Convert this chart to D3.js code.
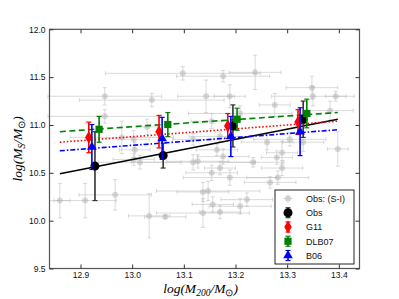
<!DOCTYPE html>
<html>
<head>
<meta charset="utf-8">
<script src="https://cdn.jsdelivr.net/npm/d3@7"></script>
<style>
  body { margin: 0; background: #fff; }
  svg { display: block; }
</style>
</head>
<body>
<div id="chart"></div>
<script>
// Stellar mass vs halo mass, observed sample + model predictions

// gray sample: Obs (S-I)
const sampleX = [13.098, 13.238, 12.947, 13.038, 13.176, 13.143, 13.189, 13.348, 13.350, 13.394,
  13.276, 13.383, 12.947, 13.209, 12.980, 13.029, 13.003, 13.118, 13.154, 13.170,
  13.261, 13.305, 13.331, 13.398, 13.234, 13.290, 13.290, 13.280, 13.267, 13.282,
  13.189, 13.154, 13.137, 13.147, 13.156, 13.222, 13.209, 13.170, 13.137, 13.164,
  13.176, 13.127, 13.118, 13.170, 12.860, 12.909, 12.967, 13.033, 13.064, 13.003,
  13.015, 13.005];
const sampleY = [11.54, 11.55, 11.30, 11.26, 11.51, 11.30, 11.30, 11.39, 11.30, 11.30,
  11.21, 11.15, 11.09, 11.12, 10.87, 10.98, 10.85, 10.85, 11.04, 10.88,
  10.82, 10.85, 10.82, 10.75, 10.61, 10.71, 10.55, 10.66, 10.40, 10.45,
  10.45, 10.50, 10.30, 10.31, 10.17, 10.22, 10.15, 10.09, 10.08, 10.74,
  10.67, 10.62, 10.61, 10.55, 10.21, 10.21, 10.27, 10.05, 10.04, 10.64,
  10.61, 10.74];
const sampleXerr = [0.15, 0.05, 0.11, 0.14, 0.09, 0.055, 0.03, 0.05, 0.08, 0.02,
  0.03, 0.045, 0.11, 0.10, 0.10, 0.02, 0.03, 0.04, 0.04, 0.06,
  0.05, 0.07, 0.04, 0.02, 0.06, 0.03, 0.04, 0.03, 0.05, 0.06,
  0.09, 0.05, 0.05, 0.10, 0.04, 0.05, 0.06, 0.04, 0.09, 0.04,
  0.05, 0.06, 0.12, 0.03, 0.02, 0.06, 0.07, 0.04, 0.04, 0.04,
  0.08, 0.03];
const sampleYerr = [0.07, 0.18, 0.09, 0.07, 0.06, 0.17, 0.12, 0.12, 0.10, 0.05,
  0.12, 0.10, 0.07, 0.08, 0.17, 0.08, 0.09, 0.06, 0.08, 0.05,
  0.08, 0.07, 0.10, 0.18, 0.05, 0.12, 0.08, 0.07, 0.06, 0.07,
  0.08, 0.08, 0.10, 0.10, 0.08, 0.07, 0.08, 0.07, 0.15, 0.06,
  0.08, 0.07, 0.08, 0.07, 0.18, 0.18, 0.16, 0.23, 0.02, 0.06,
  0.07, 0.08];

// binned points
const obsX = [12.928, 13.060, 13.195, 13.331];
const obsY = [10.57, 10.68, 10.99, 11.06];
const obsErr = [0.36, 0.13, 0.22, 0.19];

const g11X = [12.916, 13.052, 13.185, 13.321];
const g11Y = [10.87, 10.93, 10.99, 11.03];
const g11Err = [0.16, 0.17, 0.13, 0.13];

const dlbX = [12.936, 13.069, 13.203, 13.338];
const dlbY = [10.955, 11.005, 11.06, 11.12];
const dlbErr = [0.135, 0.125, 0.115, 0.15];

const b06X = [12.922, 13.058, 13.191, 13.325];
const b06Y = [10.77, 10.86, 10.88, 10.93];
const b06Err = [0.235, 0.22, 0.21, 0.25];

// fitted lines (value at both ends of fitRange)
const fitRange = [12.86, 13.398];
const obsFit = [10.49, 11.06];
const g11Fit = [10.82, 11.04];
const dlbFit = [10.93, 11.13];
const b06Fit = [10.73, 10.95];

const xTicks = [12.9, 13.0, 13.1, 13.2, 13.3, 13.4];
const yTicks = [9.5, 10.0, 10.5, 11.0, 11.5, 12.0];
const legendNames = ["Obs: (S-I)", "Obs", "G11", "DLB07", "B06"];

const width = 399, height = 299;
const pLeft = 49.5, pRight = 359.5, pTop = 29.3, pBottom = 268.5;

const svg = d3.select("#chart").append("svg")
    .attr("width", width)
    .attr("height", height);

const x = d3.scaleLinear().domain([12.84, 13.44]).range([pLeft, pRight]);
const y = d3.scaleLinear().domain([9.5, 12.0]).range([pBottom, pTop]);

// gray sample with x and y error bars
const sample = sampleX.map((v, i) => ({x: v, y: sampleY[i], xe: sampleXerr[i], ye: sampleYerr[i]}));
const gs = svg.append("g");
const barCol = "#b8b8b8";
sample.forEach(d => {
    const cx = x(d.x), cy = y(d.y);
    gs.append("line").attr("x1", x(d.x - d.xe)).attr("x2", x(d.x + d.xe))
        .attr("y1", cy).attr("y2", cy);
    gs.append("line").attr("x1", cx).attr("x2", cx)
        .attr("y1", y(d.y - d.ye)).attr("y2", y(d.y + d.ye));
    [d.x - d.xe, d.x + d.xe].forEach(v => {
        gs.append("line").attr("x1", x(v)).attr("x2", x(v)).attr("y1", cy - 2).attr("y2", cy + 2);
    });
    [d.y - d.ye, d.y + d.ye].forEach(v => {
        gs.append("line").attr("x1", cx - 2).attr("x2", cx + 2).attr("y1", y(v)).attr("y2", y(v));
    });
});
gs.selectAll("line").attr("stroke", barCol).attr("stroke-width", 1).attr("opacity", 0.5);
gs.selectAll("circle").data(sample).enter().append("circle")
    .attr("cx", d => x(d.x)).attr("cy", d => y(d.y)).attr("r", 3)
    .attr("fill", "#aaa").attr("opacity", 0.45);

// fit lines
const fits = [
    {vals: obsFit, col: "#000", dash: null},
    {vals: g11Fit, col: "#ff0000", dash: "1.5,2"},
    {vals: dlbFit, col: "#007f00", dash: "6,3.5"},
    {vals: b06Fit, col: "#0000ff", dash: "5,2,1.5,2"}
];
const line = d3.line().x(d => x(d[0])).y(d => y(d[1]));
fits.forEach(f => {
    svg.append("path")
        .attr("d", line([[fitRange[0], f.vals[0]], [fitRange[1], f.vals[1]]]))
        .attr("fill", "none")
        .attr("stroke", f.col)
        .attr("stroke-width", 1.6)
        .attr("stroke-dasharray", f.dash);
});

// symbol shapes
const sym = {
    circle: d3.symbol().type(d3.symbolCircle).size(64),
    diamond: d3.symbol().type(d3.symbolDiamond).size(48),
    square: d3.symbol().type(d3.symbolSquare).size(52),
    triangle: d3.symbol().type(d3.symbolTriangle).size(40)
};

const groups = [
    {xs: obsX, ys: obsY, es: obsErr, col: "#000", bar: "#333", shape: "circle"},
    {xs: g11X, ys: g11Y, es: g11Err, col: "#ff0000", bar: "#ff0000", shape: "diamond"},
    {xs: b06X, ys: b06Y, es: b06Err, col: "#0000ff", bar: "#0000ff", shape: "triangle"},
    {xs: dlbX, ys: dlbY, es: dlbErr, col: "#007f00", bar: "#007f00", shape: "square"}
];

function errMark(g, cx, y0, y1, col) {
    g.append("line").attr("x1", cx).attr("x2", cx).attr("y1", y0).attr("y2", y1)
        .attr("stroke", col).attr("stroke-width", 1.6);
    [y0, y1].forEach(v => {
        g.append("line").attr("x1", cx - 2.5).attr("x2", cx + 2.5).attr("y1", v).attr("y2", v)
            .attr("stroke", col).attr("stroke-width", 1.2);
    });
}

groups.forEach(s => {
    const g = svg.append("g");
    s.xs.forEach((v, i) => {
        errMark(g, x(v), y(s.ys[i] - s.es[i]), y(s.ys[i] + s.es[i]), s.bar);
    });
    s.xs.forEach((v, i) => {
        g.append("path").attr("d", sym[s.shape]())
            .attr("transform", "translate(" + x(v) + "," + y(s.ys[i]) + ")")
            .attr("fill", s.col);
    });
});

// frame
svg.append("rect")
    .attr("x", pLeft).attr("y", pTop)
    .attr("width", pRight - pLeft).attr("height", pBottom - pTop)
    .attr("fill", "none").attr("stroke", "#555").attr("stroke-width", 1.2);

// axes, ticks pointing in
const fmt = d3.format(".1f");
const ax = svg.append("g").attr("transform", "translate(0," + pBottom + ")")
    .call(d3.axisBottom(x).tickValues(xTicks).tickFormat(fmt).tickSizeInner(-4).tickSizeOuter(0).tickPadding(3));
const axTop = svg.append("g").attr("transform", "translate(0," + pTop + ")")
    .call(d3.axisTop(x).tickValues(xTicks).tickFormat("").tickSizeInner(-4).tickSizeOuter(0));
const ay = svg.append("g").attr("transform", "translate(" + pLeft + ",0)")
    .call(d3.axisLeft(y).tickValues(yTicks).tickFormat(fmt).tickSizeInner(-4).tickSizeOuter(0).tickPadding(4));
const ayR = svg.append("g").attr("transform", "translate(" + pRight + ",0)")
    .call(d3.axisRight(y).tickValues(yTicks).tickFormat("").tickSizeInner(-4).tickSizeOuter(0));
[ax, axTop, ay, ayR].forEach(a => {
    a.select(".domain").remove();
    a.selectAll("line").attr("stroke", "#333");
    a.selectAll("text").attr("font-family", "Liberation Sans, Arial, sans-serif")
        .attr("font-size", 8.5).attr("fill", "#111");
});

// axis labels
const xl = svg.append("text")
    .attr("x", (pLeft + pRight) / 2 - 4).attr("y", 293)
    .attr("text-anchor", "middle")
    .attr("font-family", "Liberation Serif, serif").attr("font-style", "italic")
    .attr("font-size", 13.5);
xl.append("tspan").text("log(M");
xl.append("tspan").attr("font-size", 9.5).attr("dy", 3).text("200");
xl.append("tspan").attr("dy", -3).text("/M");
xl.append("tspan").attr("font-size", 9.5).attr("dy", 3).attr("font-style", "normal").text("⊙");
xl.append("tspan").attr("dy", -3).text(")");

const yl = svg.append("text")
    .attr("transform", "translate(22," + (pTop + pBottom) / 2 + ") rotate(-90)")
    .attr("text-anchor", "middle")
    .attr("font-family", "Liberation Serif, serif").attr("font-style", "italic")
    .attr("font-size", 13.5);
yl.append("tspan").text("log(M");
yl.append("tspan").attr("font-size", 9.5).attr("dy", 3).text("S");
yl.append("tspan").attr("dy", -3).text("/M");
yl.append("tspan").attr("font-size", 9.5).attr("dy", 3).attr("font-style", "normal").text("⊙");
yl.append("tspan").attr("dy", -3).text(")");

// legend
const lg = svg.append("g");
lg.append("rect").attr("x", 275).attr("y", 190).attr("width", 79).attr("height", 74)
    .attr("fill", "#fff").attr("stroke", "#222").attr("stroke-width", 1);
const legY = d3.scalePoint().domain(legendNames).range([198.5, 255.5]);
const legMark = [
    null,
    {col: "#000", bar: "#333", shape: "circle"},
    {col: "#ff0000", bar: "#ff0000", shape: "diamond"},
    {col: "#007f00", bar: "#007f00", shape: "square"},
    {col: "#0000ff", bar: "#0000ff", shape: "triangle"}
];
legendNames.forEach((n, i) => {
    const yy = legY(n), mx = 288;
    if (i === 0) {
        const gg = lg.append("g").attr("opacity", 0.55);
        gg.append("line").attr("x1", mx - 5).attr("x2", mx + 5).attr("y1", yy).attr("y2", yy);
        gg.append("line").attr("x1", mx).attr("x2", mx).attr("y1", yy - 4).attr("y2", yy + 4);
        gg.selectAll("line").attr("stroke", barCol);
        gg.append("circle").attr("cx", mx).attr("cy", yy).attr("r", 3).attr("fill", "#aaa");
    } else {
        const m = legMark[i];
        errMark(lg, mx, yy - 5, yy + 5, m.bar);
        lg.append("path").attr("d", sym[m.shape]())
            .attr("transform", "translate(" + mx + "," + yy + ")").attr("fill", m.col);
    }
    lg.append("text").attr("x", 306).attr("y", yy + 3.3)
        .attr("font-family", "Liberation Sans, Arial, sans-serif").attr("font-size", 9)
        .attr("fill", "#111").text(n);
});
</script>
</body>
</html>
